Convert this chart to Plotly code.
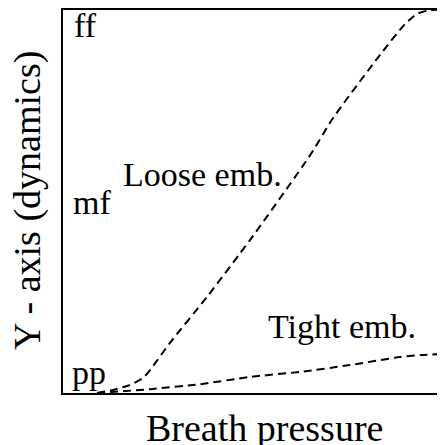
import plotly.graph_objects as go

# Data (x: breath pressure 0-100, y: dynamics 0-100)
loose_x = [8.9, 13.1, 17.5, 20.9, 22.8, 28.0, 37.7, 49.0, 64.7, 70.7, 83.0, 89.5, 92.7, 96.1, 100]
loose_y = [0, 0.8, 2.1, 3.9, 6.0, 13.1, 25.1, 40.0, 62.1, 71.8, 88.3, 96.3, 99.0, 100, 100]
tight_x = [8.9, 22.8, 35.9, 49.0, 62.0, 75.1, 88.2, 93.5, 100]
tight_y = [0, 1.0, 2.3, 4.2, 5.5, 7.3, 9.4, 9.9, 10.2]

dyn_labels = ["ff", "mf", "pp"]
curve_labels = ["Loose emb.", "Tight emb."]
x_title = "Breath pressure"
y_title = "Y - axis (dynamics)"

FONT = "Liberation Serif, Times New Roman, serif"
OFF = 8            # default body margin of the page
WIN = 445
W, H = WIN - OFF, WIN - OFF
L, T, R, B = 63, 10, 445, 393   # plot area in window pixels

def px(x):
    return (x - L) / (R - L)

def py(y):
    return (B - y) / (B - T)

fig = go.Figure()
line = dict(color="black", width=2, dash="8px,5px", shape="spline", smoothing=0.6)
fig.add_trace(go.Scatter(x=loose_x, y=loose_y, mode="lines", line=line, hoverinfo="skip"))
fig.add_trace(go.Scatter(x=tight_x, y=tight_y, mode="lines", line=line, hoverinfo="skip"))

anns = []
def txt(s, x, y, size, xanchor="left", angle=0):
    anns.append(dict(text=s, x=px(x), y=py(y), xref="paper", yref="paper",
                     xanchor=xanchor, yanchor="middle", showarrow=False,
                     textangle=angle, font=dict(family=FONT, size=size, color="black")))

txt(dyn_labels[0], 72, 26, 34)
txt(dyn_labels[1], 71, 202, 34)
txt(dyn_labels[2], 70, 372, 34)
txt(curve_labels[0], 121, 174, 34)
txt(curve_labels[1], 266, 326, 34)
txt(x_title, 264, 428, 38, xanchor="center")
txt(y_title, 27, 201, 38, xanchor="center", angle=-90)

fig.update_layout(
    width=W, height=H,
    margin=dict(l=L - OFF, r=WIN - R, t=T - OFF, b=WIN - B, pad=0),
    paper_bgcolor="white", plot_bgcolor="white",
    showlegend=False,
    annotations=anns,
    xaxis=dict(range=[0, 100], showgrid=False, zeroline=False, showticklabels=False,
               ticks="", showline=True, linecolor="black", linewidth=2, mirror=True),
    yaxis=dict(range=[0, 100], showgrid=False, zeroline=False, showticklabels=False,
               ticks="", showline=True, linecolor="black", linewidth=2, mirror=False),
)
fig.write_html("out.html")
